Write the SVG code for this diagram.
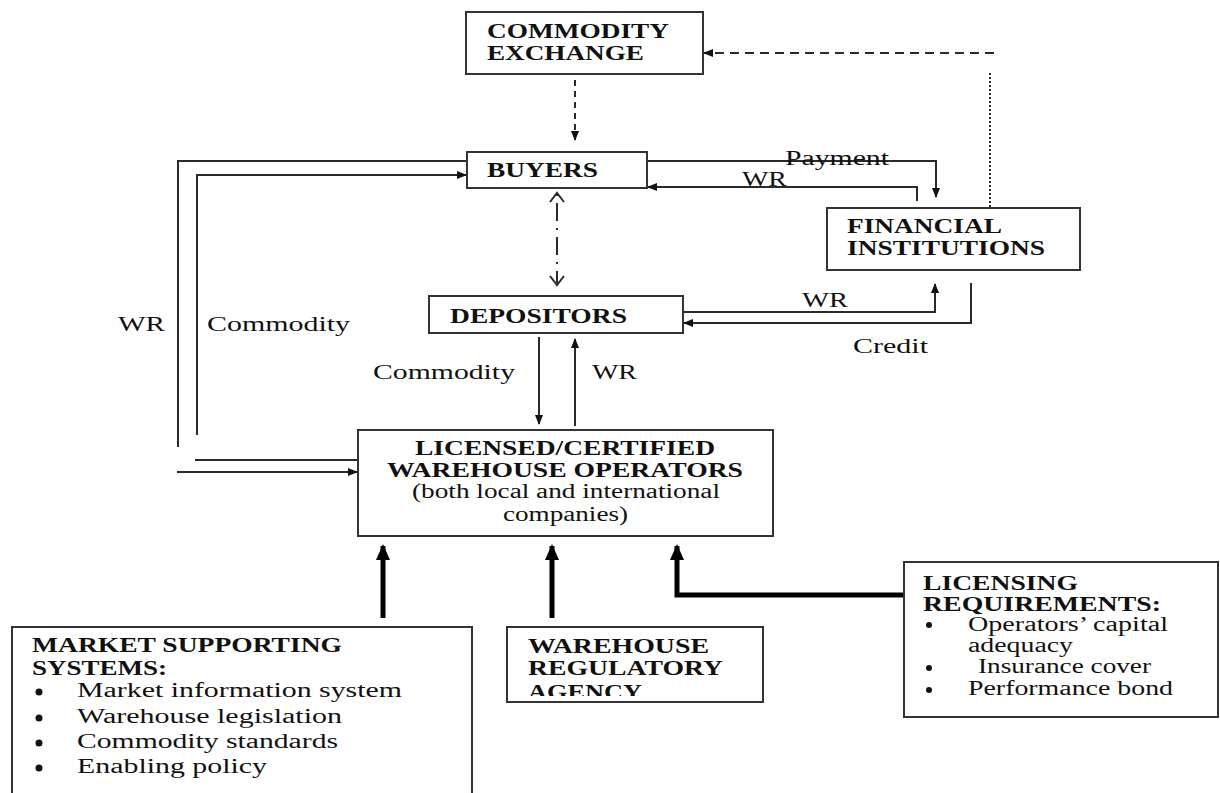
<svg xmlns="http://www.w3.org/2000/svg" width="1220" height="793" viewBox="0 0 1220 793">
<style>
.box{fill:#fff;stroke:#333;stroke-width:2}
.ln{fill:none;stroke:#2a2a2a;stroke-width:2}
.thick{fill:none;stroke:#000;stroke-width:5}
.b{font-family:"Liberation Serif",serif;font-weight:bold;font-size:20px;fill:#111}
.r{font-family:"Liberation Serif",serif;font-size:20px;fill:#111}
</style>
<defs>
<marker id="ah" markerWidth="10" markerHeight="10" refX="9" refY="5" orient="auto" markerUnits="userSpaceOnUse">
<path d="M0,1 L10,5 L0,9 Z" fill="#111"/>
</marker>
<marker id="big" markerWidth="16" markerHeight="16" refX="14" refY="8" orient="auto" markerUnits="userSpaceOnUse">
<path d="M0,1 L16,8 L0,15 Z" fill="#000"/>
</marker>
<clipPath id="wraClip"><rect x="506" y="627" width="258" height="69"/></clipPath>
</defs>

<g id="connectors">
<line class="ln" x1="575" y1="80" x2="575" y2="140" stroke-dasharray="6,5" marker-end="url(#ah)"/>
<line class="ln" x1="994" y1="53" x2="704" y2="53" stroke-dasharray="9,6" marker-end="url(#ah)"/>
<line class="ln" x1="990" y1="73" x2="990" y2="208" stroke-dasharray="2,2"/>
<polyline class="ln" points="647,161 936,161 936,197" marker-end="url(#ah)"/>
<polyline class="ln" points="917,201 917,187 648,187" marker-end="url(#ah)"/>
<line class="ln" x1="557" y1="194" x2="557" y2="283" stroke-dasharray="2,7,18,7"/>
<polyline class="ln" points="550,202 557,193 564,202"/>
<polyline class="ln" points="550,276 557,285 564,276"/>
<polyline class="ln" points="684,312 935,312 935,284" marker-end="url(#ah)"/>
<polyline class="ln" points="971,283 971,323 684,323" marker-end="url(#ah)"/>
<line class="ln" x1="539" y1="337" x2="539" y2="424" marker-end="url(#ah)"/>
<line class="ln" x1="575" y1="426" x2="575" y2="339" marker-end="url(#ah)"/>
<polyline class="ln" points="178,447 178,161 467,161"/>
<polyline class="ln" points="197,435 197,175 466,175" marker-end="url(#ah)"/>
<line class="ln" x1="195" y1="460" x2="358" y2="460"/>
<line class="ln" x1="177" y1="472" x2="357" y2="472" marker-end="url(#ah)"/>
<line class="thick" x1="383" y1="618" x2="383" y2="546" marker-end="url(#big)"/>
<line class="thick" x1="552" y1="618" x2="552" y2="546" marker-end="url(#big)"/>
<polyline class="thick" points="904,595 677,595 677,546" marker-end="url(#big)"/>
</g>

<g id="commodity-exchange">
<rect class="box" x="466" y="12" width="237" height="62"/>
<text class="b" x="487" y="38" textLength="182" lengthAdjust="spacingAndGlyphs">COMMODITY</text>
<text class="b" x="487" y="60" textLength="157" lengthAdjust="spacingAndGlyphs">EXCHANGE</text>
</g>

<g id="buyers">
<rect class="box" x="467" y="152" width="180" height="36"/>
<text class="b" x="487" y="177" textLength="111" lengthAdjust="spacingAndGlyphs">BUYERS</text>
</g>

<g id="financial-institutions">
<rect class="box" x="827" y="208" width="253" height="62"/>
<text class="b" x="847" y="233" textLength="155" lengthAdjust="spacingAndGlyphs">FINANCIAL</text>
<text class="b" x="847" y="255" textLength="198" lengthAdjust="spacingAndGlyphs">INSTITUTIONS</text>
</g>

<g id="depositors">
<rect class="box" x="429" y="296" width="254" height="37"/>
<text class="b" x="450" y="323" textLength="177" lengthAdjust="spacingAndGlyphs">DEPOSITORS</text>
</g>

<g id="warehouse-operators">
<rect class="box" x="358" y="430" width="415" height="106"/>
<text class="b" x="415" y="455" textLength="300" lengthAdjust="spacingAndGlyphs">LICENSED/CERTIFIED</text>
<text class="b" x="387" y="477" textLength="356" lengthAdjust="spacingAndGlyphs">WAREHOUSE OPERATORS</text>
<text class="r" x="412" y="498" textLength="308" lengthAdjust="spacingAndGlyphs">(both local and international</text>
<text class="r" x="503" y="521" textLength="125" lengthAdjust="spacingAndGlyphs">companies)</text>
</g>

<g id="market-supporting-systems">
<rect class="box" x="12" y="627" width="460" height="180"/>
<text class="b" x="32" y="652" textLength="310" lengthAdjust="spacingAndGlyphs">MARKET SUPPORTING</text>
<text class="b" x="32" y="675" textLength="135" lengthAdjust="spacingAndGlyphs">SYSTEMS:</text>
<circle cx="39" cy="692" r="3.5" fill="#111"/>
<circle cx="39" cy="718" r="3.5" fill="#111"/>
<circle cx="39" cy="743" r="3.5" fill="#111"/>
<circle cx="39" cy="768" r="3.5" fill="#111"/>
<text class="r" x="77" y="697" textLength="325" lengthAdjust="spacingAndGlyphs">Market information system</text>
<text class="r" x="77" y="723" textLength="265" lengthAdjust="spacingAndGlyphs">Warehouse legislation</text>
<text class="r" x="77" y="748" textLength="261" lengthAdjust="spacingAndGlyphs">Commodity standards</text>
<text class="r" x="77" y="773" textLength="190" lengthAdjust="spacingAndGlyphs">Enabling policy</text>
</g>

<g id="warehouse-regulatory-agency">
<rect class="box" x="507" y="627" width="256" height="75"/>
<g clip-path="url(#wraClip)">
<text class="b" x="528" y="653" textLength="181" lengthAdjust="spacingAndGlyphs">WAREHOUSE</text>
<text class="b" x="528" y="675" textLength="195" lengthAdjust="spacingAndGlyphs">REGULATORY</text>
<text class="b" x="528" y="699" textLength="114" lengthAdjust="spacingAndGlyphs">AGENCY</text>
</g>
</g>

<g id="licensing-requirements">
<rect class="box" x="904" y="562" width="314" height="155"/>
<text class="b" x="923" y="590" textLength="155" lengthAdjust="spacingAndGlyphs">LICENSING</text>
<text class="b" x="923" y="611" textLength="238" lengthAdjust="spacingAndGlyphs">REQUIREMENTS:</text>
<circle cx="929" cy="625" r="3" fill="#111"/>
<circle cx="929" cy="668" r="3" fill="#111"/>
<circle cx="929" cy="690" r="3" fill="#111"/>
<text class="r" x="968" y="631" textLength="200" lengthAdjust="spacingAndGlyphs">Operators’ capital</text>
<text class="r" x="968" y="652" textLength="105" lengthAdjust="spacingAndGlyphs">adequacy</text>
<text class="r" x="978" y="673" textLength="173" lengthAdjust="spacingAndGlyphs">Insurance cover</text>
<text class="r" x="968" y="695" textLength="205" lengthAdjust="spacingAndGlyphs">Performance bond</text>
</g>

<g id="labels">
<text class="r" x="785" y="165" textLength="104" lengthAdjust="spacingAndGlyphs">Payment</text>
<text class="r" x="742" y="186" textLength="45" lengthAdjust="spacingAndGlyphs">WR</text>
<text class="r" x="802" y="307" textLength="46" lengthAdjust="spacingAndGlyphs">WR</text>
<text class="r" x="853" y="353" textLength="75" lengthAdjust="spacingAndGlyphs">Credit</text>
<text class="r" x="373" y="379" textLength="142" lengthAdjust="spacingAndGlyphs">Commodity</text>
<text class="r" x="592" y="379" textLength="45" lengthAdjust="spacingAndGlyphs">WR</text>
<text class="r" x="118" y="331" textLength="47" lengthAdjust="spacingAndGlyphs">WR</text>
<text class="r" x="207" y="331" textLength="143" lengthAdjust="spacingAndGlyphs">Commodity</text>
</g>
</svg>
